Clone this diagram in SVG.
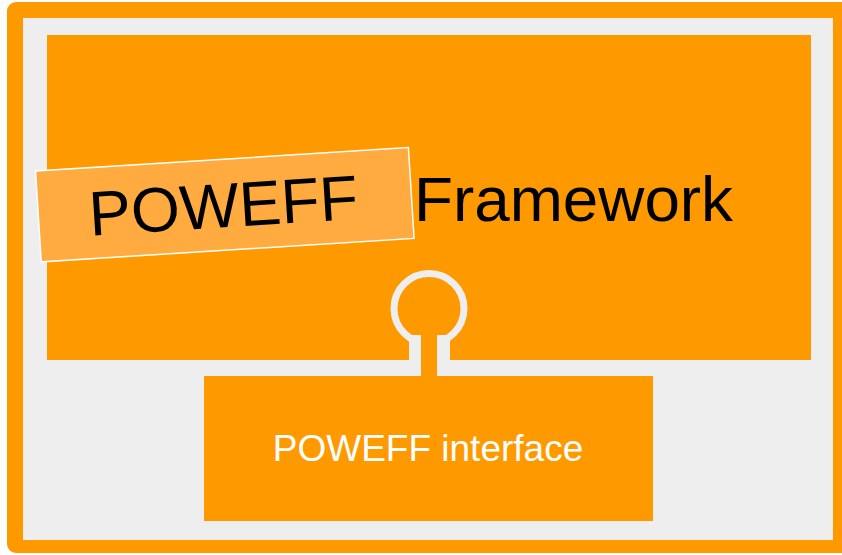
<svg xmlns="http://www.w3.org/2000/svg" width="842" height="555" viewBox="0 0 842 555">
  <style>
    .org { fill: #ff9900; }
    .txt { font-family: "Liberation Sans", Arial, sans-serif; }
  </style>
  <rect x="0" y="0" width="842" height="555" fill="#ffffff"/>
  <g id="frame">
    <rect x="7" y="2" width="852" height="551" rx="9" class="org"/>
    <rect x="23" y="18" width="810" height="522" fill="#eeeeee"/>
  </g>
  <g id="framework">
    <rect x="47" y="35" width="764" height="325" class="org"/>
    <text x="414" y="221" class="txt" font-size="63.8" fill="#000000">Framework</text>
  </g>
  <g id="connectors">
    <circle cx="429" cy="308.5" r="35" fill="none" stroke="#eeeeee" stroke-width="7"/>
    <rect x="409" y="335" width="41" height="25" fill="#eeeeee"/>
    <rect x="421" y="330" width="16" height="50" class="org"/>
  </g>
  <g id="interface">
    <rect x="204" y="376" width="449" height="145" class="org"/>
    <text x="428" y="461" class="txt" font-size="37" fill="#ffffff" text-anchor="middle">POWEFF interface</text>
  </g>
  <g id="label" transform="translate(224.8 204.7) rotate(-3.6)">
    <rect x="-186.8" y="-45.5" width="373.6" height="91" fill="#ffab40" stroke="#ffffff" stroke-width="1.5"/>
    <text x="-1.5" y="22.5" class="txt" font-size="63" fill="#000000" text-anchor="middle">POWEFF</text>
  </g>
</svg>
